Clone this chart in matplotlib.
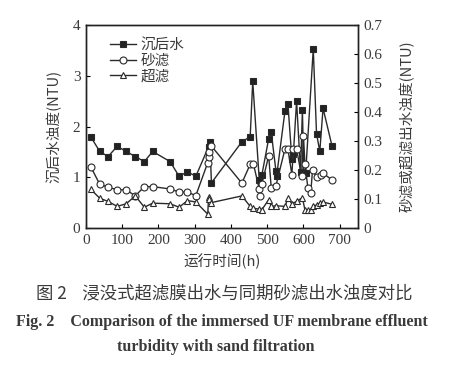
import matplotlib
matplotlib.use("Agg")
import matplotlib.pyplot as plt

# --- data ---
settled_x = [13, 38, 61, 86, 111, 136, 161, 184, 232, 257, 280, 303, 338, 342, 346,
             430, 453, 460, 478, 485, 504, 511, 524, 526, 549, 557, 568, 572, 581,
             592, 597, 601, 606, 627, 636, 645, 654, 679]
settled_y = [1.80, 1.51, 1.41, 1.61, 1.51, 1.41, 1.31, 1.51, 1.31, 1.02, 1.11, 1.02, 1.60, 1.70, 0.89,
             1.70, 1.80, 2.89, 0.95, 1.04, 1.76, 1.89, 1.13, 1.03, 2.31, 2.45, 1.36, 1.45, 2.50,
             1.10, 2.33, 1.08, 1.08, 3.53, 1.86, 1.51, 2.36, 1.61]

sand_x = [13, 38, 61, 86, 111, 136, 161, 184, 232, 257, 280, 303, 336, 338, 340, 346,
          430, 453, 462, 478, 481, 485, 504, 511, 524, 549, 557, 568, 572, 581,
          595, 600, 604, 612, 620, 625, 636, 647, 654, 679]
sand_y = [0.212, 0.151, 0.141, 0.132, 0.132, 0.111, 0.143, 0.143, 0.135, 0.124, 0.124, 0.112,
          0.226, 0.246, 0.264, 0.283,
          0.155, 0.220, 0.221, 0.134, 0.111, 0.151, 0.249, 0.140, 0.146, 0.273, 0.273, 0.184, 0.272, 0.272,
          0.178, 0.316, 0.221, 0.140, 0.120, 0.201, 0.176, 0.184, 0.189, 0.166]

uf_x = [13, 38, 61, 86, 111, 136, 161, 184, 232, 257, 280, 303, 336, 338, 340, 346,
        430, 453, 462, 478, 485, 504, 511, 524, 549, 557, 568, 581, 597, 604, 612,
        620, 627, 636, 645, 654, 679]
uf_y = [0.134, 0.103, 0.092, 0.075, 0.084, 0.111, 0.072, 0.086, 0.084, 0.072, 0.095, 0.090,
        0.048, 0.107, 0.099, 0.088,
        0.111, 0.075, 0.069, 0.065, 0.063, 0.098, 0.075, 0.077, 0.075, 0.103, 0.084, 0.092, 0.105,
        0.063, 0.063, 0.063, 0.075, 0.080, 0.086, 0.090, 0.082]

labels = ["沉后水", "砂滤", "超滤"]
x_ticks = [0, 100, 200, 300, 400, 500, 600, 700]
left_ticks = [0, 1, 2, 3, 4]
right_ticks = [0, 0.1, 0.2, 0.3, 0.4, 0.5, 0.6, 0.7]

cjk = ["Noto Sans CJK SC", "DejaVu Sans"]
serif = ["Liberation Serif", "DejaVu Serif"]
col = "#2a2a2a"
tcol = "#3a3a3a"

fig = plt.figure(figsize=(4.49, 3.65), dpi=100)
ax = fig.add_axes([0.1915, 0.375, 0.6055, 0.5565])
ax2 = ax.twinx()

l1, = ax.plot(settled_x, settled_y, color=col, lw=1.0, marker="s", ms=5,
              mfc="#222222", mec=col, mew=0.8)
l2, = ax2.plot(sand_x, sand_y, color=col, lw=1.0, marker="o", ms=5,
               mfc="white", mec=col, mew=0.8)
l3, = ax2.plot(uf_x, uf_y, color=col, lw=1.0, marker="^", ms=5,
               mfc="white", mec=col, mew=0.8)

ax.set_xlim(0, 750)
ax.set_ylim(0, 4)
ax2.set_ylim(0, 0.7)
ax.set_xticks(x_ticks)
ax.set_yticks(left_ticks)
ax2.set_yticks(right_ticks)
ax.set_xticklabels([str(v) for v in x_ticks], fontfamily=serif, fontsize=11, color=tcol)
ax.set_yticklabels([str(v) for v in left_ticks], fontfamily=serif, fontsize=11, color=tcol)
ax2.set_yticklabels(["0"] + [f"{v:.1f}" for v in right_ticks[1:]], fontfamily=serif, fontsize=11, color=tcol)
ax.tick_params(direction="in", length=3, width=0.8, pad=4)
ax2.tick_params(direction="in", length=3, width=0.8, pad=4)
for a in (ax, ax2):
    for s in a.spines.values():
        s.set_linewidth(1.0)
        s.set_color("#222222")

ax.set_xlabel("运行时间(h)", fontfamily=cjk, fontsize=10.5, color=tcol, labelpad=5)
ax.set_ylabel("沉后水浊度(NTU)", fontfamily=cjk, fontsize=10.5, color=tcol, labelpad=8)
ax2.set_ylabel("砂滤或超滤出水浊度(NTU)", fontfamily=cjk, fontsize=10.5, color=tcol, labelpad=12)

leg = ax.legend([l1, l2, l3], labels, loc="upper left", frameon=False,
                prop={"family": cjk, "size": 10.5}, handlelength=1.8, handletextpad=0.3,
                labelspacing=0.1, borderaxespad=0.3, bbox_to_anchor=(0.05, 0.985))
for t in leg.get_texts():
    t.set_color(tcol)

fig.text(0.5, 1 - 293 / 365, "图 2    浸没式超滤膜出水与同期砂滤出水浊度对比",
         ha="center", va="center", fontfamily=cjk, fontsize=12.5, color=tcol)
fig.text(0.035, 1 - 322 / 365, "Fig. 2    Comparison of the immersed UF membrane effluent",
         ha="left", va="center", fontfamily=serif, fontsize=11.5, fontweight="bold", color=tcol)
fig.text(0.48, 1 - 347 / 365, "turbidity with sand filtration",
         ha="center", va="center", fontfamily=serif, fontsize=11.5, fontweight="bold", color=tcol)

fig.savefig("out.png", dpi=100)
